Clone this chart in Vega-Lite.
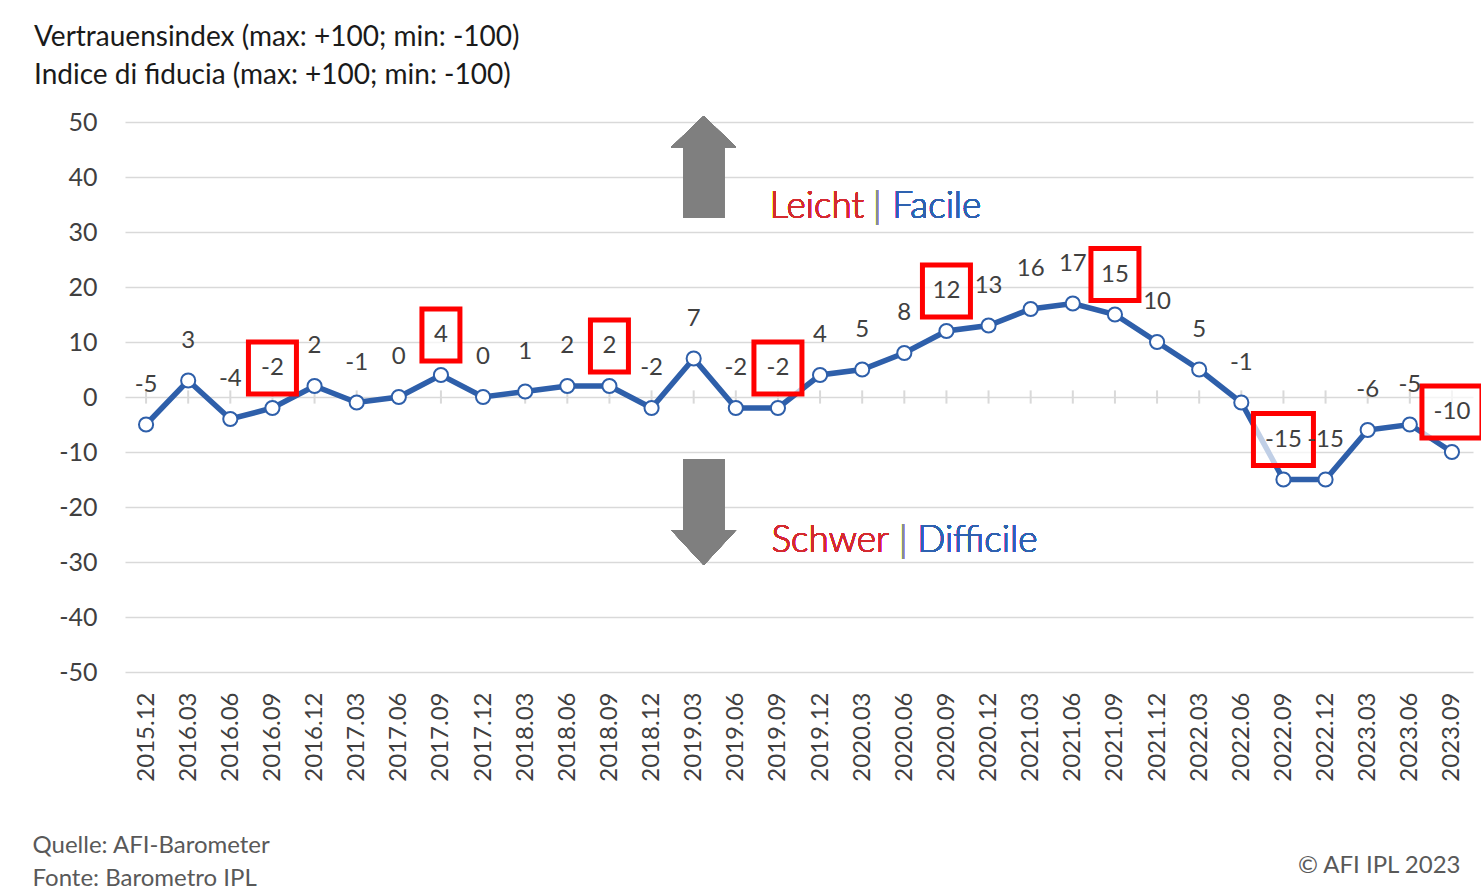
{
  "$schema": "https://vega.github.io/schema/vega-lite/v6.json",
  "width": 1348,
  "height": 550,
  "autosize": {"type": "none"},
  "padding": {"left": 125, "top": 122, "right": 8, "bottom": 218},
  "background": "white",
  "config": {"font": "Lato", "view": {"stroke": null}},
  "title": {
    "text": ["Vertrauensindex (max: +100; min: -100)", "Indice di fiducia (max: +100; min: -100)"],
    "anchor": "start",
    "frame": "group",
    "dx": -91,
    "offset": 20,
    "fontSize": 28,
    "fontWeight": "normal",
    "color": "#1a1a1a",
    "lineHeight": 38
  },
  "data": {
    "values": [
      {"period": "2015.12", "value": -5},
      {"period": "2016.03", "value": 3},
      {"period": "2016.06", "value": -4},
      {"period": "2016.09", "value": -2},
      {"period": "2016.12", "value": 2},
      {"period": "2017.03", "value": -1},
      {"period": "2017.06", "value": 0},
      {"period": "2017.09", "value": 4},
      {"period": "2017.12", "value": 0},
      {"period": "2018.03", "value": 1},
      {"period": "2018.06", "value": 2},
      {"period": "2018.09", "value": 2},
      {"period": "2018.12", "value": -2},
      {"period": "2019.03", "value": 7},
      {"period": "2019.06", "value": -2},
      {"period": "2019.09", "value": -2},
      {"period": "2019.12", "value": 4},
      {"period": "2020.03", "value": 5},
      {"period": "2020.06", "value": 8},
      {"period": "2020.09", "value": 12},
      {"period": "2020.12", "value": 13},
      {"period": "2021.03", "value": 16},
      {"period": "2021.06", "value": 17},
      {"period": "2021.09", "value": 15},
      {"period": "2021.12", "value": 10},
      {"period": "2022.03", "value": 5},
      {"period": "2022.06", "value": -1},
      {"period": "2022.09", "value": -15},
      {"period": "2022.12", "value": -15},
      {"period": "2023.03", "value": -6},
      {"period": "2023.06", "value": -5},
      {"period": "2023.09", "value": -10}
    ]
  },
  "encoding": {
    "x": {
      "field": "period",
      "type": "ordinal",
      "scale": {"type": "point", "padding": 0.5},
      "axis": {
        "labelAngle": 270,
        "labelFontSize": 24,
        "labelColor": "#404040",
        "labelPadding": 20,
        "ticks": false,
        "domain": false,
        "grid": false,
        "title": ["Quelle: AFI-Barometer", "Fonte: Barometro IPL"],
        "titleX": -93,
        "titleY": 180,
        "titleAlign": "left",
        "titleBaseline": "alphabetic",
        "titleAngle": 0,
        "titleFontSize": 24,
        "titleFontWeight": "normal",
        "titleColor": "#595959",
        "titleLineHeight": 33
      }
    },
    "y": {
      "field": "value",
      "type": "quantitative",
      "scale": {"domain": [-50, 50], "nice": false, "zero": false},
      "axis": {
        "values": [-50, -40, -30, -20, -10, 0, 10, 20, 30, 40, 50],
        "labelExpr": "'' + datum.value",
        "labelFontSize": 25,
        "labelColor": "#404040",
        "labelPadding": 28,
        "ticks": false,
        "domain": false,
        "grid": true,
        "gridColor": "#d9d9d9",
        "gridWidth": 1.5,
        "title": "© AFI IPL 2023",
        "titleAngle": 0,
        "titleX": 1335,
        "titleY": 750,
        "titleAlign": "right",
        "titleBaseline": "alphabetic",
        "titleFontSize": 24,
        "titleFontWeight": "normal",
        "titleColor": "#595959"
      }
    }
  },
  "layer": [
    {
      "mark": {"type": "rule", "color": "#d9d9d9", "strokeWidth": 2},
      "encoding": {
        "y": {"datum": 1.2},
        "y2": {"datum": -1.2}
      }
    },
    {
      "mark": {"type": "line", "color": "#2e5faa", "strokeWidth": 5.5}
    },
    {
      "transform": [{"filter": "indexof(datum.period, '.09') > 0"}],
      "mark": {
        "type": "point",
        "fill": "white",
        "fillOpacity": 0.7,
        "stroke": "#ff0000",
        "strokeWidth": 5,
        "opacity": 1,
        "size": 3600,
        "yOffset": -40
      },
      "encoding": {
        "shape": {
          "condition": [
            {"test": "datum.value <= -10", "value": "M-1,-0.867H1V0.867H-1Z"},
            {"test": "datum.value >= 0 && datum.value < 10", "value": "M-0.633,-0.867H0.633V0.867H-0.633Z"}
          ],
          "value": "M-0.8,-0.867H0.8V0.867H-0.8Z"
        }
      }
    },
    {
      "mark": {
        "type": "point",
        "shape": "circle",
        "size": 200,
        "fill": "white",
        "stroke": "#2e5faa",
        "strokeWidth": 2,
        "opacity": 1,
        "filled": false
      }
    },
    {
      "mark": {"type": "text", "dy": -40, "fontSize": 24, "color": "#404040", "baseline": "middle"},
      "encoding": {"text": {"field": "value", "type": "nominal"}}
    },
    {
      "mark": {
        "type": "point",
        "shape": "M0,-1L0.637,-0.39L0.4,-0.39L0.4,1L-0.4,1L-0.4,-0.39L-0.637,-0.39Z",
        "size": 10404,
        "filled": true,
        "fill": "#7f7f7f",
        "strokeWidth": 0,
        "opacity": 1,
        "xOffset": 10
      },
      "encoding": {
        "x": {"datum": "2019.03", "type": "ordinal"},
        "y": {"datum": 41.8}
      }
    },
    {
      "mark": {
        "type": "point",
        "shape": "M0,1L0.613,0.34L0.387,0.34L0.387,-1L-0.387,-1L-0.387,0.34L-0.613,0.34Z",
        "size": 11236,
        "filled": true,
        "fill": "#7f7f7f",
        "strokeWidth": 0,
        "opacity": 1,
        "xOffset": 10
      },
      "encoding": {
        "x": {"datum": "2019.03", "type": "ordinal"},
        "y": {"datum": -20.9}
      }
    },
    {
      "mark": {"type": "text", "text": "Leicht", "align": "right", "baseline": "alphabetic", "dx": 2, "fontSize": 37, "fontWeight": 300, "color": "#d42a30"},
      "encoding": {"x": {"datum": "2020.03", "type": "ordinal"}, "y": {"datum": 32.5}}
    },
    {
      "mark": {"type": "text", "text": "|", "align": "center", "baseline": "alphabetic", "dx": 15, "fontSize": 37, "fontWeight": 300, "color": "#8c8c8c"},
      "encoding": {"x": {"datum": "2020.03", "type": "ordinal"}, "y": {"datum": 32.5}}
    },
    {
      "mark": {"type": "text", "text": "Facile", "align": "left", "baseline": "alphabetic", "dx": 30, "fontSize": 37, "fontWeight": 300, "color": "#2e62b0"},
      "encoding": {"x": {"datum": "2020.03", "type": "ordinal"}, "y": {"datum": 32.5}}
    },
    {
      "mark": {"type": "text", "text": "Schwer", "align": "right", "baseline": "alphabetic", "dx": 27, "fontSize": 37, "fontWeight": 300, "color": "#d42a30"},
      "encoding": {"x": {"datum": "2020.03", "type": "ordinal"}, "y": {"datum": -28.2}}
    },
    {
      "mark": {"type": "text", "text": "|", "align": "center", "baseline": "alphabetic", "dx": 41, "fontSize": 37, "fontWeight": 300, "color": "#8c8c8c"},
      "encoding": {"x": {"datum": "2020.03", "type": "ordinal"}, "y": {"datum": -28.2}}
    },
    {
      "mark": {"type": "text", "text": "Difficile", "align": "left", "baseline": "alphabetic", "dx": 55, "fontSize": 37, "fontWeight": 300, "color": "#2e62b0"},
      "encoding": {"x": {"datum": "2020.03", "type": "ordinal"}, "y": {"datum": -28.2}}
    }
  ]
}
